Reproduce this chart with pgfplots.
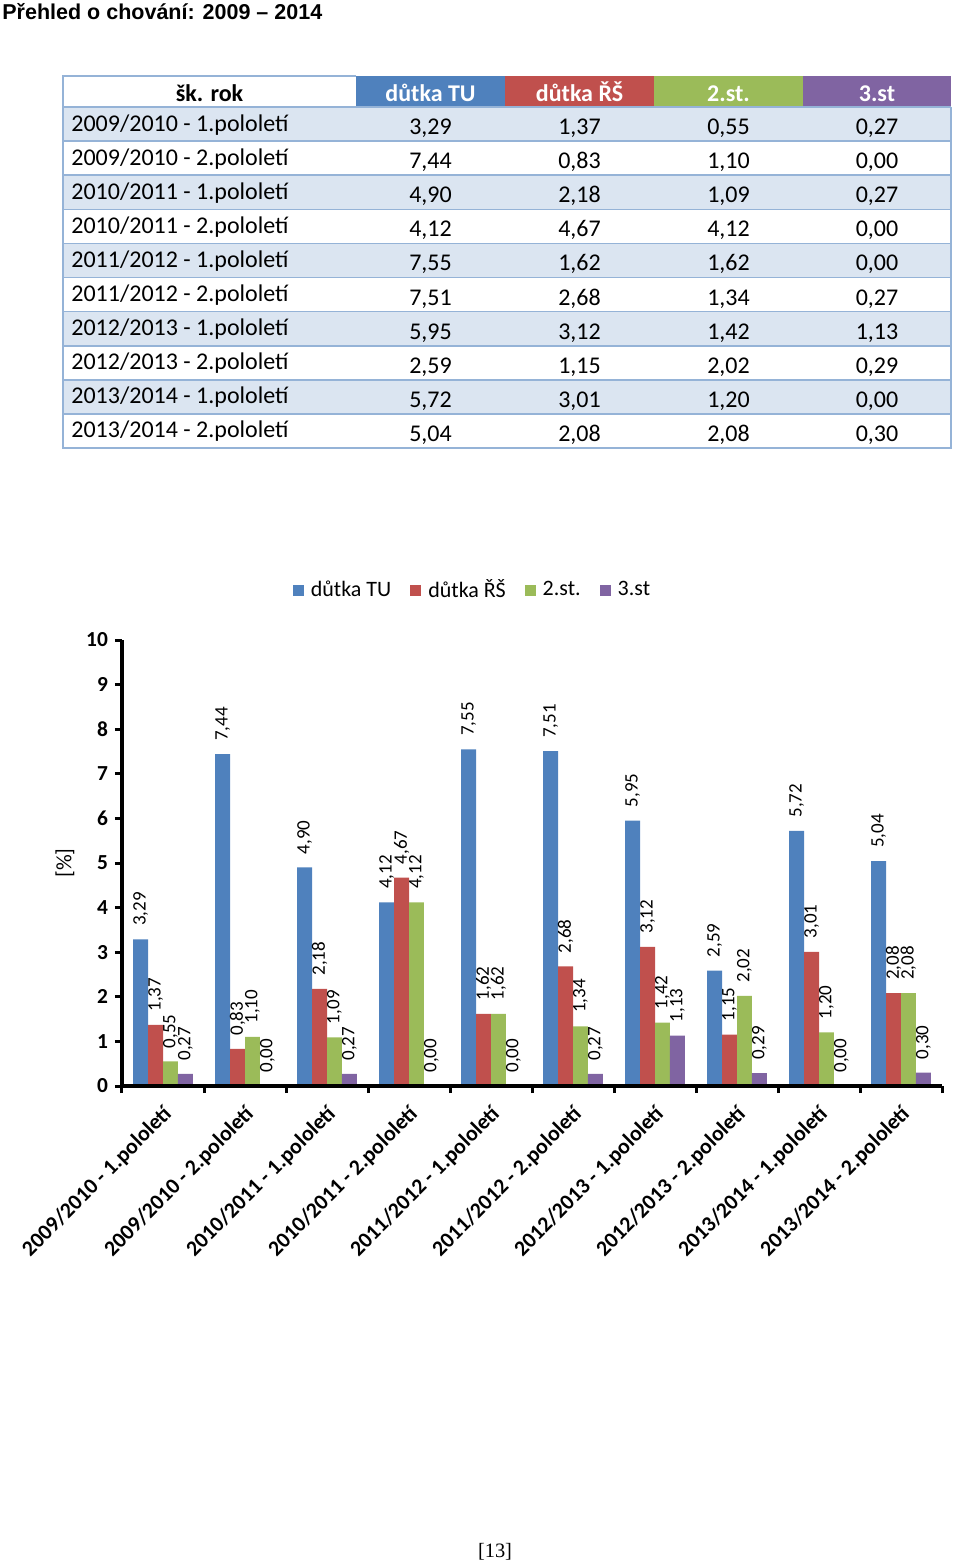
\documentclass[border=0pt]{standalone}
\usepackage{pgfplots}
\pgfplotsset{compat=1.18}
\usepackage{pgfplotstable}
\usepackage{fontspec}
\setmainfont{Carlito}
\newfontfamily\arialfont{Liberation Sans}
\newfontfamily\timesfont{Liberation Serif}
\definecolor{cTU}{HTML}{4F81BD}
\definecolor{cRS}{HTML}{C0504D}
\definecolor{cST}{HTML}{9BBB59}
\definecolor{cTT}{HTML}{8064A2}
\definecolor{rowblue}{HTML}{DBE5F1}
\definecolor{lineblue}{HTML}{95B3D7}

\pgfplotstableread{
x name tu rs st2 st3
0 {2009/2010 - 1.pololetí} 3.29 1.37 0.55 0.27
1 {2009/2010 - 2.pololetí} 7.44 0.83 1.10 0.00
2 {2010/2011 - 1.pololetí} 4.90 2.18 1.09 0.27
3 {2010/2011 - 2.pololetí} 4.12 4.67 4.12 0.00
4 {2011/2012 - 1.pololetí} 7.55 1.62 1.62 0.00
5 {2011/2012 - 2.pololetí} 7.51 2.68 1.34 0.27
6 {2012/2013 - 1.pololetí} 5.95 3.12 1.42 1.13
7 {2012/2013 - 2.pololetí} 2.59 1.15 2.02 0.29
8 {2013/2014 - 1.pololetí} 5.72 3.01 1.20 0.00
9 {2013/2014 - 2.pololetí} 5.04 2.08 2.08 0.30
}\datatable

\newcommand{\num}[1]{\pgfmathprintnumber[fixed,fixed zerofill,precision=2,use comma,assume math mode=true]{#1}}

\begin{document}
\begin{tikzpicture}
\path[use as bounding box] (0,0) rectangle (480pt,-781.5pt);
% title
\node[anchor=base west, inner sep=0pt, font=\arialfont\bfseries\fontsize{10.75}{13}\selectfont] at (1pt,-9.5pt) {Přehled o chování: 2009 – 2014};

% table
\begin{scope}[x=0.5pt,y=-0.5pt]
  \foreach \r in {0,2,4,6,8} {\fill[rowblue] (63,107+34.1*\r) rectangle (951,141.1+34.1*\r);}
  \fill[cTU] (356,76) rectangle (505,107);
  \fill[cRS] (505,76) rectangle (654,107);
  \fill[cST] (654,76) rectangle (803,107);
  \fill[cTT] (803,76) rectangle (951,107);
  \foreach \r in {1,...,9} {\draw[lineblue, line width=0.8pt] (63,107+34.1*\r) -- (951,107+34.1*\r);}
  \draw[lineblue, line width=0.8pt] (63,107) -- (951,107);
  \draw[lineblue, line width=0.8pt] (356,76) -- (63,76) -- (63,448) -- (951,448) -- (951,107);
  \begin{scope}[every node/.style={inner sep=0pt, anchor=base, font=\bfseries\fontsize{12}{14}\selectfont}]
    \node at (209.5,101.5) {šk. rok};
    \node[text=white] at (430.5,101.5) {důtka TU};
    \node[text=white] at (579.5,101.5) {důtka ŘŠ};
    \node[text=white] at (728.5,101.5) {2.st.};
    \node[text=white] at (877,101.5) {3.st};
  \end{scope}
  \foreach \r in {0,...,9} {
    \pgfplotstablegetelem{\r}{name}\of\datatable
    \node[inner sep=0pt, anchor=base west, font=\fontsize{12}{14}\selectfont] at (71,107+34.1*\r+24) {\pgfplotsretval};
    \pgfplotstablegetelem{\r}{tu}\of\datatable
    \node[inner sep=0pt, anchor=base, font=\fontsize{12}{14}\selectfont] at (430.5,107+34.1*\r+27.5) {\num{\pgfplotsretval}};
    \pgfplotstablegetelem{\r}{rs}\of\datatable
    \node[inner sep=0pt, anchor=base, font=\fontsize{12}{14}\selectfont] at (579.5,107+34.1*\r+27.5) {\num{\pgfplotsretval}};
    \pgfplotstablegetelem{\r}{st2}\of\datatable
    \node[inner sep=0pt, anchor=base, font=\fontsize{12}{14}\selectfont] at (728.5,107+34.1*\r+27.5) {\num{\pgfplotsretval}};
    \pgfplotstablegetelem{\r}{st3}\of\datatable
    \node[inner sep=0pt, anchor=base, font=\fontsize{12}{14}\selectfont] at (877,107+34.1*\r+27.5) {\num{\pgfplotsretval}};
  }
\end{scope}

\begin{axis}[
  at={(61pt,-543pt)}, anchor=south west,
  width=410pt, height=223pt, scale only axis,
  ymin=0, ymax=10, xmin=-0.5, xmax=9.5,
  ybar=0pt, bar width=7.45pt,
  axis lines*=left,
  axis line style={line width=2pt, black},
  axis on top,
  clip=false,
  ytick={0,1,...,10},
  xtick={0,1,...,9},
  xticklabels from table={\datatable}{name},
  minor xtick={-0.5,0.5,...,9.5},
  tick align=outside,
  major tick length=3.5pt, minor tick length=3.5pt,
  tick style={line width=1.5pt, black},
  major x tick style={draw=none},
  yticklabel style={font=\bfseries\fontsize{10.7}{12}\selectfont, /pgf/number format/assume math mode=true},
  xticklabel style={font=\bfseries\fontsize{10.9}{13}\selectfont, rotate=45, anchor=east, inner sep=1pt, xshift=-3.36pt, yshift=-8.2pt},
  ylabel={[\%]},
  ylabel style={at={(axis description cs:-0.0695,0.5)}, anchor=center, font=\fontsize{11}{13}\selectfont},
  nodes near coords={\num{\pgfplotspointmeta}},
  nodes near coords style={rotate=90, anchor=west, inner xsep=6.5pt, inner ysep=0pt, font=\fontsize{9.5}{10}\selectfont, text=black},
  legend columns=4,
  legend style={at={(0.4305,1.112)}, anchor=center, draw=none, fill=none,
    font=\fontsize{11}{13}\selectfont,
    /tikz/every even column/.append style={column sep=6pt},
    nodes={inner xsep=3.5pt}},
]
\addplot[fill=cTU, draw=none, legend image code/.code={\fill[cTU] (0pt,-2.75pt) rectangle (5.5pt,2.75pt);}] table[x=x,y=tu]{\datatable};
\addplot[fill=cRS, draw=none, legend image code/.code={\fill[cRS] (0pt,-2.75pt) rectangle (5.5pt,2.75pt);}] table[x=x,y=rs]{\datatable};
\addplot[fill=cST, draw=none, legend image code/.code={\fill[cST] (0pt,-2.75pt) rectangle (5.5pt,2.75pt);}] table[x=x,y=st2]{\datatable};
\addplot[fill=cTT, draw=none, legend image code/.code={\fill[cTT] (0pt,-2.75pt) rectangle (5.5pt,2.75pt);}] table[x=x,y=st3]{\datatable};
\legend{důtka TU, důtka ŘŠ, 2.st., 3.st}
\end{axis}

\node[anchor=base, inner sep=0pt, font=\timesfont\fontsize{10.2}{12}\selectfont] at (247.5pt,-778.5pt) {[13]};
\end{tikzpicture}
\end{document}
